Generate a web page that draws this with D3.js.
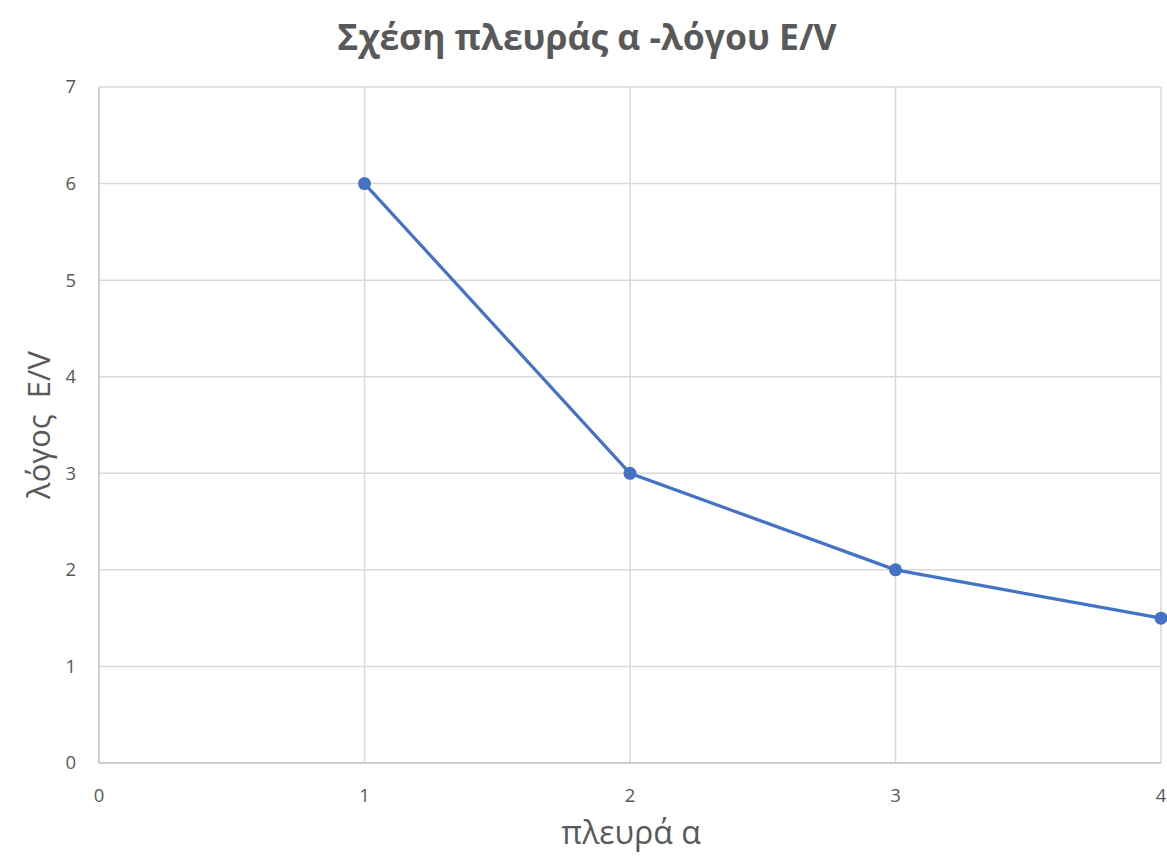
<!DOCTYPE html>
<html><head><meta charset="utf-8">
<script src="https://cdn.jsdelivr.net/npm/d3@7"></script>
<style>body{margin:0;background:#fff;} svg{display:block;} text{white-space:pre;}</style>
</head><body>
<script>
const xValues = [1, 2, 3, 4];
const yValues = [6, 3, 2, 1.5];
const xTicks = [0, 1, 2, 3, 4];
const yTicks = [0, 1, 2, 3, 4, 5, 6, 7];
const titleText = "Σχέση πλευράς α -λόγου Ε/V";
const xTitle = "πλευρά α";
const yTitle = "λόγος  Ε/V";

const W = 1167, H = 857;
const m = {left: 99, right: 6, top: 87, bottom: 94};
const svg = d3.select("body").append("svg").attr("width", W).attr("height", H);
const x = d3.scaleLinear().domain([0, 4]).range([m.left, W - m.right]);
const y = d3.scaleLinear().domain([0, 7]).range([H - m.bottom, m.top]);
const font = "'Open Sans', 'Noto Sans', sans-serif";
const textColor = "#595959";

// grid
svg.append("g").selectAll("line.h").data(yTicks.slice(1)).join("line")
  .attr("x1", x(0)).attr("x2", x(4)).attr("y1", d => y(d)).attr("y2", d => y(d))
  .attr("stroke", "#d9d9d9").attr("stroke-width", 1.5);
svg.append("g").selectAll("line.v").data(xTicks.slice(1)).join("line")
  .attr("x1", d => x(d)).attr("x2", d => x(d)).attr("y1", y(0)).attr("y2", y(7))
  .attr("stroke", "#d9d9d9").attr("stroke-width", 1.5);
// axis lines
svg.append("line").attr("x1", x(0)).attr("x2", x(0)).attr("y1", y(0)).attr("y2", y(7))
  .attr("stroke", "#bfbfbf").attr("stroke-width", 1.5);
svg.append("line").attr("x1", x(0)).attr("x2", x(4)).attr("y1", y(0)).attr("y2", y(0))
  .attr("stroke", "#bfbfbf").attr("stroke-width", 1.5);

// tick labels
svg.append("g").selectAll("text").data(yTicks).join("text")
  .attr("x", x(0) - 23).attr("y", d => y(d)).attr("dy", "0.35em")
  .attr("text-anchor", "end").attr("font-family", font).attr("font-size", 18.5)
  .attr("fill", textColor).text(d => d);
svg.append("g").selectAll("text").data(xTicks).join("text")
  .attr("x", d => x(d)).attr("y", y(0) + 39)
  .attr("text-anchor", "middle").attr("font-family", font).attr("font-size", 18.5)
  .attr("fill", textColor).text(d => d);

// line
const pts = xValues.map((v, i) => [v, yValues[i]]);
svg.append("path").datum(pts)
  .attr("d", d3.line().x(d => x(d[0])).y(d => y(d[1])))
  .attr("fill", "none").attr("stroke", "#4472C4").attr("stroke-width", 3.2);
svg.append("g").selectAll("circle").data(pts).join("circle")
  .attr("cx", d => x(d[0])).attr("cy", d => y(d[1])).attr("r", 6.5)
  .attr("fill", "#4472C4");

// titles
svg.append("text").attr("x", 587).attr("y", 50).attr("text-anchor", "middle")
  .attr("font-family", font).attr("font-weight", "bold").attr("font-size", 35.5)
  .attr("fill", textColor).text(titleText);
svg.append("text").attr("x", 631).attr("y", 844).attr("text-anchor", "middle")
  .attr("font-family", font).attr("font-size", 32)
  .attr("fill", textColor).text(xTitle);
svg.append("text").attr("transform", `translate(50,${(y(0)+y(7))/2}) rotate(-90)`)
  .attr("text-anchor", "middle")
  .attr("font-family", font).attr("font-size", 31)
  .attr("fill", textColor).text(yTitle);
</script>
</body></html>
